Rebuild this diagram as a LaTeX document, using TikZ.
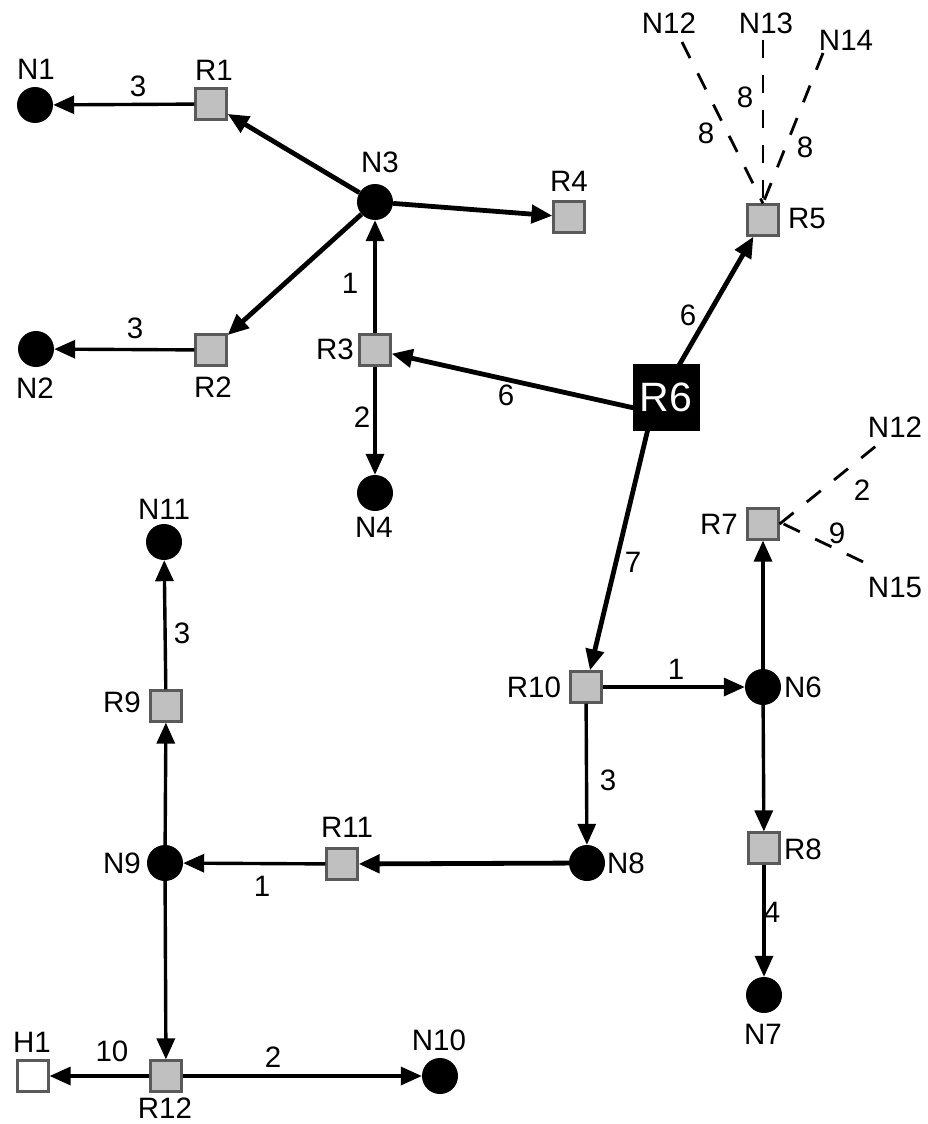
\documentclass[tikz,border=0pt]{standalone}
\usepackage{fontspec}
\setmainfont{Liberation Sans}
\usetikzlibrary{arrows.meta}
\definecolor{sqgray}{HTML}{C0C0C0}
\definecolor{sqborder}{HTML}{5A5A5A}
\tikzset{
  rnode/.style={rectangle, fill=sqgray, draw=sqborder, line width=2.2pt, minimum size=31pt, inner sep=0pt},
  hnode/.style={rectangle, fill=white, draw=sqborder, line width=2.2pt, minimum size=31pt, inner sep=0pt},
  nnode/.style={circle, fill=black, minimum size=36pt, inner sep=0pt},
  bignode/.style={rectangle, fill=black, minimum size=67pt, inner sep=0pt, text=white, font=\fontsize{41}{41}\selectfont},
  lbl/.style={inner sep=0pt, font=\fontsize{29.5}{32}\selectfont},
  link/.style={line width=3.4pt, -{Triangle[length=21pt,width=18pt]}},
  heavy/.style={link, line width=4.8pt},
  dashlink/.style={line width=2.8pt, dash pattern=on 18pt off 17pt},
}
\begin{document}
\begin{tikzpicture}[x=1pt,y=-1pt]
\useasboundingbox (0,0) rectangle (927,1124);

% nodes
\node[nnode] (N1) at (35,105) {};
\node[rnode] (R1) at (211,104) {};
\node[nnode] (N3) at (375,202) {};
\node[rnode] (R4) at (569,217) {};
\node[nnode] (N2) at (36,349) {};
\node[rnode] (R2) at (211,350) {};
\node[rnode] (R3) at (375,350) {};
\node[nnode] (N4) at (375,493) {};
\node[rnode] (R5) at (763,220) {};
\node[rnode] (R7) at (763,524) {};
\node[nnode] (N6) at (763,687) {};
\node[rnode] (R10) at (586,687) {};
\node[rnode] (R8) at (764,848) {};
\node[nnode] (N7) at (764,995) {};
\node[nnode] (N8) at (587,863) {};
\node[rnode] (R11) at (342,864) {};
\node[nnode] (N9) at (165,863) {};
\node[rnode] (R9) at (166,706) {};
\node[nnode] (N11) at (164,542) {};
\node[rnode] (R12) at (166,1076) {};
\node[hnode] (H1) at (33,1076) {};
\node[nnode] (N10) at (440,1076) {};
\coordinate (R6hub) at (652,412);

% node labels
\node[lbl] (tN1) at (36,69) {N1};
\node[lbl] (tR1) at (214,70) {R1};
\node[lbl] (tN3) at (380,162) {N3};
\node[lbl] (tR4) at (569,181) {R4};
\node[lbl] (tN2) at (35,388) {N2};
\node[lbl] (tR2) at (213,387) {R2};
\node[lbl] (tR3) at (335,349) {R3};
\node[lbl] (tN4) at (374,527) {N4};
\node[lbl] (tR5) at (807,218) {R5};
\node[lbl] (tN12a) at (669,23) {N12};
\node[lbl] (tN13) at (766,23) {N13};
\node[lbl] (tN14) at (846,40) {N14};
\node[lbl] (tR7) at (719,524) {R7};
\node[lbl] (tN12b) at (895,427) {N12};
\node[lbl] (tN15) at (895,587) {N15};
\node[lbl] (tR10) at (534,687) {R10};
\node[lbl] (tN6) at (803,687) {N6};
\node[lbl] (tR8) at (803,849) {R8};
\node[lbl] (tN7) at (763,1034) {N7};
\node[lbl] (tN8) at (626,863) {N8};
\node[lbl] (tR11) at (347,827) {R11};
\node[lbl] (tN9) at (122,863) {N9};
\node[lbl] (tR9) at (122,702) {R9};
\node[lbl] (tN11) at (164,509) {N11};
\node[lbl] (tH1) at (32,1042) {H1};
\node[lbl] (tR12) at (165,1108) {R12};
\node[lbl] (tN10) at (439,1040) {N10};

% dashed line ends
\coordinate (d12a) at (682,42);
\coordinate (d13) at (763,40);
\coordinate (d14) at (823,53);
\coordinate (d12b) at (876,446);
\coordinate (d15) at (878,569);

% edges
\draw[link] (R1) -- (N1);
\draw[heavy] (N3) -- (R1);
\draw[heavy] (N3) -- (R2);
\draw[link] (R2) -- (N2);
\draw[heavy] (N3) -- (R4);
\draw[link] (R3) -- (N3);
\draw[link] (R3) -- (N4);
\draw[heavy] (R6hub) -- (R3);
\draw[heavy] (R6hub) -- (R5);
\draw[heavy] (R6hub) -- (R10);
\draw[link] (R10) -- (N6);
\draw[link] (N6) -- (R7);
\draw[link] (N6) -- (R8);
\draw[link] (R8) -- (N7);
\draw[link] (R10) -- (N8);
\draw[heavy] (N8) -- (R11);
\draw[link] (R11) -- (N9);
\draw[link] (N9) -- (R9);
\draw[link] (R9) -- (N11);
\draw[link] (N9) -- (R12);
\draw[link] (R12) -- (H1);
\draw[link] (R12) -- (N10);

\draw[dashlink] (d12a) -- (R5.north);
\draw[dashlink] (d13) -- (R5.north);
\draw[dashlink] (d14) -- (R5.north);
\draw[dashlink] (R7.east) -- (d12b);
\draw[dashlink] ([xshift=4pt]R7.east) -- (d15);

\node[bignode] (R6) at (666,397) {R6};

% edge labels
\node[lbl] (w1) at (138,86) {3};
\node[lbl] (w2) at (135,328) {3};
\node[lbl] (w3) at (350,283) {1};
\node[lbl] (w4) at (362,417) {2};
\node[lbl] (w5) at (506,395) {6};
\node[lbl] (w6) at (688,315) {6};
\node[lbl] (w7) at (706,133) {8};
\node[lbl] (w8) at (745,97) {8};
\node[lbl] (w9) at (805,147) {8};
\node[lbl] (w10) at (862,490) {2};
\node[lbl] (w11) at (837,533) {9};
\node[lbl] (w12) at (633,562) {7};
\node[lbl] (w13) at (676,669) {1};
\node[lbl] (w14) at (608,780) {3};
\node[lbl] (w15) at (772,912) {4};
\node[lbl] (w16) at (262,886) {1};
\node[lbl] (w17) at (182,633) {3};
\node[lbl] (w18) at (112,1051) {10};
\node[lbl] (w19) at (273,1057) {2};
\end{tikzpicture}
\end{document}
